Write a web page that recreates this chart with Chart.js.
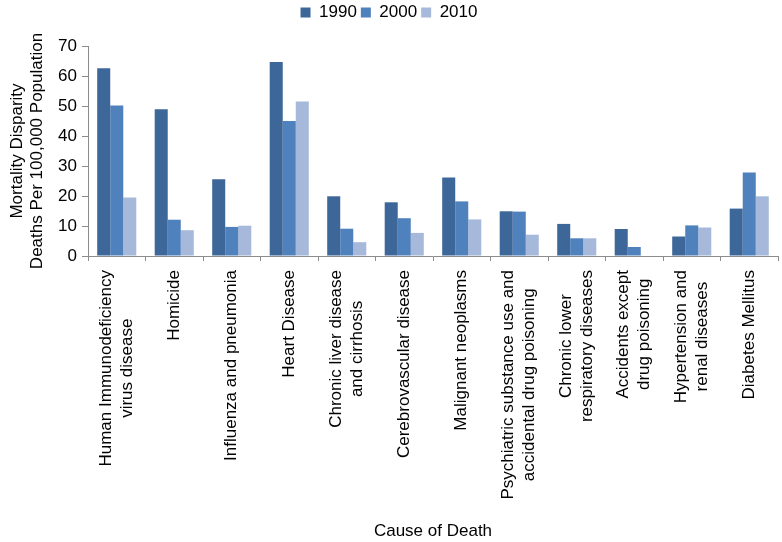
<!DOCTYPE html>
<html>
<head>
<meta charset="utf-8">
<script src="https://cdn.jsdelivr.net/npm/chart.js@4"></script>
<style>
  body { margin: 0; background: #fff; }
  #wrap { width: 782px; height: 542px; }
</style>
</head>
<body>
<div id="wrap"><canvas id="grafico"></canvas></div>
<script>
// Causas de muerte (etiquetas del eje x, con saltos de linea como en el original)
const causas = [
    ['Human Immunodeficiency', 'virus disease'],
    'Homicide',
    'Influenza and pneumonia',
    'Heart Disease',
    ['Chronic liver disease', 'and cirrhosis'],
    'Cerebrovascular disease',
    'Malignant neoplasms',
    ['Psychiatric substance use and', 'accidental drug poisoning'],
    ['Chronic lower', 'respiratory diseases'],
    ['Accidents except', 'drug poisoning'],
    ['Hypertension and', 'renal diseases'],
    'Diabetes Mellitus'
];

const anios = ['1990', '2000', '2010'];

// Valores
const valores1990 = [62.6, 48.9, 25.6, 64.7, 19.9, 17.9, 26.2, 14.9, 10.7, 9.0, 6.5, 15.8];
const valores2000 = [50.2, 12.1, 9.7, 45.0, 9.1, 12.6, 18.2, 14.8, 5.9, 3.0, 10.2, 27.8];
const valores2010 = [19.5, 8.6, 10.1, 51.5, 4.6, 7.7, 12.2, 7.1, 5.9, 0, 9.5, 19.9];

const colores = ['#3d6699', '#4f81bd', '#a7b9da'];
const gris = '#8c8c8c';

Chart.defaults.font.family = '"Liberation Sans", Arial, sans-serif';
Chart.defaults.font.size = 17;
Chart.defaults.color = '#000';

// Etiquetas del eje x dibujadas a mano: rotadas y con lineas centradas
const etiquetasX = {
    id: 'etiquetasX',
    afterDraw(chart) {
        const ctx = chart.ctx;
        const escala = chart.scales.x;
        const alto = 21;
        ctx.save();
        ctx.font = '17px "Liberation Sans", Arial, sans-serif';
        ctx.fillStyle = '#000';
        ctx.textAlign = 'center';
        ctx.textBaseline = 'middle';
        causas.forEach((etiqueta, i) => {
            const lineas = Array.isArray(etiqueta) ? etiqueta : [etiqueta];
            const ancho = Math.max(...lineas.map(l => ctx.measureText(l).width));
            const x = escala.getPixelForValue(i);
            const y = chart.chartArea.bottom + 14;
            ctx.save();
            ctx.translate(x, y);
            ctx.rotate(-Math.PI / 2);
            lineas.forEach((linea, j) => {
                ctx.fillText(linea, -ancho / 2, (j - (lineas.length - 1) / 2) * alto);
            });
            ctx.restore();
        });
        ctx.restore();
    }
};

// Espacio extra debajo de la leyenda
const espacioLeyenda = {
    id: 'espacioLeyenda',
    beforeInit(chart) {
        const fitOriginal = chart.legend.fit;
        chart.legend.fit = function () {
            fitOriginal.bind(chart.legend)();
            this.height += 15;
        };
    }
};

const ctx = document.getElementById('grafico').getContext('2d');

new Chart(ctx, {
    type: 'bar',
    data: {
        labels: causas,
        datasets: [
            { label: anios[0], data: valores1990, backgroundColor: colores[0] },
            { label: anios[1], data: valores2000, backgroundColor: colores[1] },
            { label: anios[2], data: valores2010, backgroundColor: colores[2] }
        ]
    },
    options: {
        responsive: true,
        maintainAspectRatio: false,
        animation: false,
        datasets: {
            bar: { categoryPercentage: 0.68, barPercentage: 1.0 }
        },
        layout: { padding: { top: 0, right: 4, bottom: 0, left: 0 } },
        plugins: {
            legend: {
                position: 'top',
                labels: { boxWidth: 10, boxHeight: 10, padding: 4, font: { size: 17 } }
            },
            tooltip: { enabled: false }
        },
        scales: {
            x: {
                afterFit(escala) { escala.height = 286; },
                grid: { offset: true, drawOnChartArea: false, drawTicks: true, tickLength: 5, color: gris },
                border: { color: gris },
                ticks: { autoSkip: false, minRotation: 90, maxRotation: 90, color: 'rgba(0,0,0,0)' },
                title: { display: true, text: 'Cause of Death', font: { size: 17 }, padding: { top: 0, bottom: 0 } }
            },
            y: {
                min: 0,
                max: 70,
                afterFit(escala) { escala.width = 88; },
                grid: { drawOnChartArea: false, drawTicks: true, tickLength: 6, color: gris },
                border: { color: gris },
                ticks: { stepSize: 10, padding: 5, font: { size: 17 } },
                title: {
                    display: true,
                    text: ['Mortality Disparity', 'Deaths Per 100,000 Population'],
                    font: { size: 17, lineHeight: 1.2 },
                    padding: { top: 7, bottom: 0 }
                }
            }
        }
    },
    plugins: [etiquetasX, espacioLeyenda]
});
</script>
</body>
</html>
